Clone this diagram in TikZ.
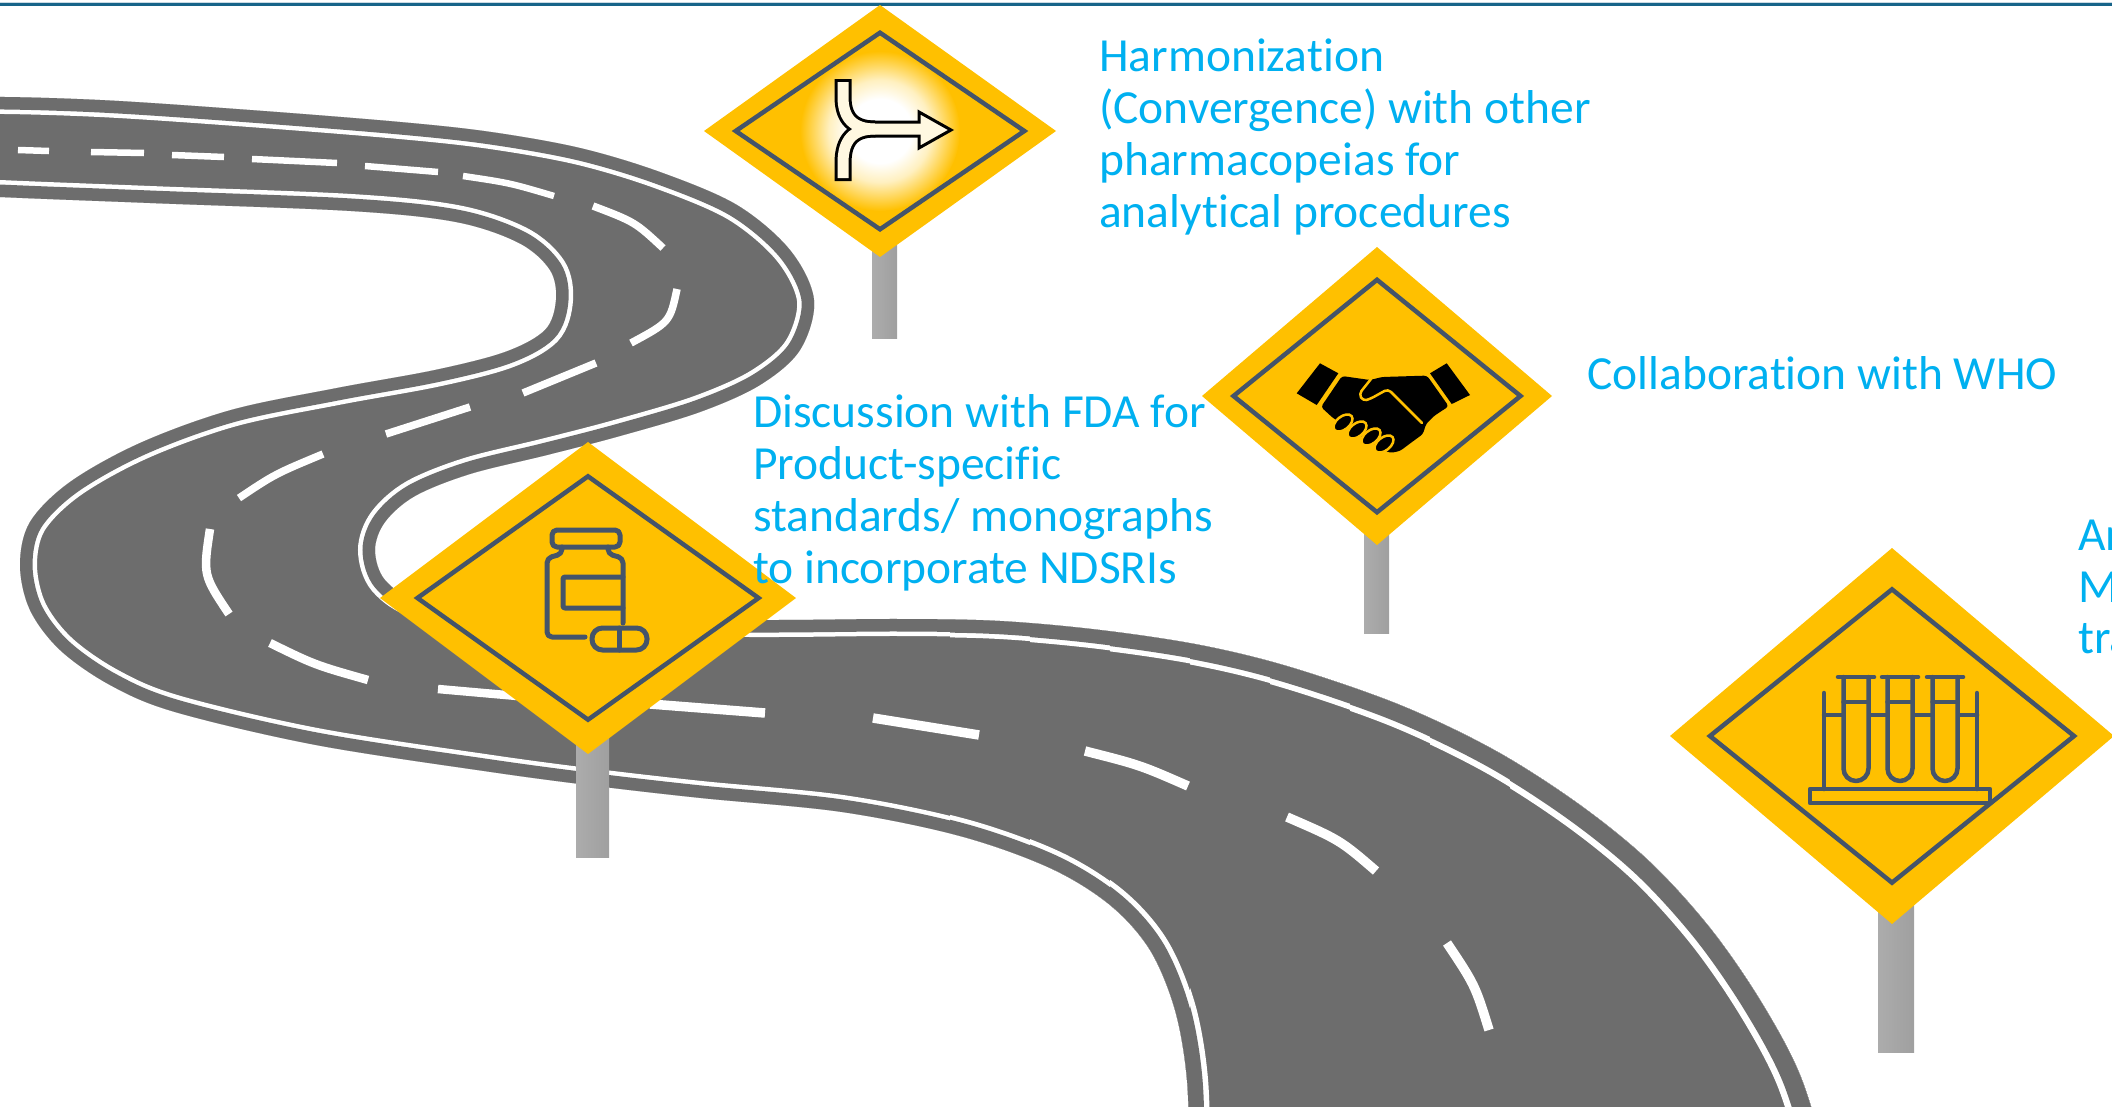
\documentclass[tikz,border=0pt]{standalone}
\usepackage{fontspec}
\setmainfont{Carlito}[Ligatures=NoCommon]
\usetikzlibrary{calc}
\definecolor{signyellow}{HTML}{FFC000}
\definecolor{signline}{HTML}{44546A}
\definecolor{roadgray}{HTML}{6D6D6D}
\definecolor{labelblue}{HTML}{00B0F0}
\definecolor{ruleblue}{HTML}{176489}
\definecolor{rulelight}{HTML}{C9D9E3}
\definecolor{cream}{HTML}{FFF8E1}
\definecolor{glowmid}{HTML}{FFF0C0}
\pgfdeclareradialshading{signglow}{\pgfpoint{0bp}{0bp}}{color(0bp)=(white); color(10bp)=(white); color(16bp)=(glowmid); color(25bp)=(signyellow); color(50bp)=(signyellow)}

% yellow plate of a diamond sign: centre x, centre y, half width, half height
\newcommand\signplate[4]{\fill[signyellow] ({#1},{#2-#4}) -- ({#1+#3},{#2}) -- ({#1},{#2+#4}) -- ({#1-#3},{#2}) -- cycle;}
% dark inner border of a diamond sign
\newcommand\signrim[4]{\draw[rimline] ({#1},{#2-0.78*#4}) -- ({#1+0.82*#3},{#2}) -- ({#1},{#2+0.78*#4}) -- ({#1-0.82*#3},{#2}) -- cycle;}

% outline of the winding road (one closed curve, ends hidden outside the page)
\def\roadpath{plot[smooth cycle,tension=0.55] coordinates {
 (-20,97) (100,100) (250,110) (400,122) (491,132) (580,148) (660,172) (737,205) (790,250) (814,300) (800,350) (760,385) (700,412) (620,436) (547,455) (470,474) (415,496) (385,522) (375,550) (385,580) (420,602) (500,614) (620,619) (772,620) (900,619) (1000,621) (1100,630) (1200,645) (1290,667) (1400,705) (1496,751) (1580,805) (1650,862) (1710,928) (1760,1000) (1800,1075) (1825,1160) (1840,1250)
 (1180,1250) (1188,1160) (1187,1080) (1175,1010) (1150,950) (1110,905) (1050,868) (960,836) (842,812) (701,798) (596,786) (491,772) (316,745) (175,712) (110,685) (60,650) (30,610) (20,565) (30,522) (70,482) (140,443) (231,410) (337,388) (435,370) (505,352) (545,330) (556,300) (550,270) (519,243) (456,222) (351,211) (150,203) (-20,196) (-80,190) (-80,103)}}

\begin{document}
\begin{tikzpicture}[x=1pt,y=-1pt,
  caption/.style={text=labelblue,font=\fontsize{47.5}{52}\selectfont,anchor=base west,inner sep=0pt},
  rimline/.style={draw=signline,line width=4.5pt,line join=miter},
  iconline/.style={draw=signline,line width=5pt,line cap=round,line join=round},
  tubeline/.style={draw=signline,line width=4.5pt,line cap=round,line join=round},
  postbar/.style={left color=gray!65,middle color=white,right color=gray!75},
  lanemark/.style={draw=white,line cap=butt},
  handgap/.style={draw=signyellow,line width=2.5pt,line join=round,line cap=round}]

\useasboundingbox (0,0) rectangle (2112,1106);
\clip (0,0) rectangle (2112,1106);

% top rule
\fill[rulelight] (0,1.5) rectangle (2112,3);
\fill[ruleblue] (0,3) rectangle (2112,5.5);

% ---------- road ----------
\fill[roadgray] \roadpath;
% white edge lines: a gray margin and a white stripe just inside the outline,
% growing wider towards the near (lower right) end of the road
\begin{scope}
  \clip \roadpath;
  \draw[white,line width=34pt] \roadpath;
  \draw[roadgray,line width=25pt] \roadpath;
\end{scope}
\foreach \xs/\wa/\wb in {950/36/26.5, 1030/38/28, 1110/40/29.5, 1190/42/31, 1270/44/32.5, 1350/46/34, 1430/48/35.5, 1510/50/37} {
  \begin{scope}
    \clip (\xs,560) rectangle (2150,1150);
    \clip \roadpath;
    \draw[white,line width=\wa pt] \roadpath;
    \draw[roadgray,line width=\wb pt] \roadpath;
  \end{scope}
}

% centre lane marks
\begin{scope}[lanemark,line width=6.5pt]
  \draw (18,150) -- (49,151);
  \draw (91,152) -- (144,153);
  \draw (172,155) -- (224,157);
  \draw (252,159) -- (337,163);
  \draw (365,166) -- (438,172);
  \draw (463,176) .. controls (510,183) .. (554,196);
\end{scope}
\begin{scope}[lanemark,line width=7.5pt]
  \draw (593,206) .. controls (635,222) .. (663,248);
  \draw (677,289) .. controls (670,322) .. (631,343);
  \draw (596,363) -- (523,393);
  \draw (470,407) -- (386,434);
  \draw (323,454) .. controls (275,474) .. (239,498);
\end{scope}
\begin{scope}[lanemark,line width=8.5pt]
  \draw (210,529) .. controls (203,575) .. (229,614);
  \draw (270,643) .. controls (315,665) .. (368,680);
  \draw (438,689) -- (540,698);
\end{scope}
\begin{scope}[lanemark,line width=9.5pt]
  \draw (650,704) -- (765,713);
  \draw (873,718) -- (979,735);
  \draw (1085,751) .. controls (1140,765) .. (1188,786);
  \draw (1287,817) .. controls (1340,840) .. (1376,871);
  \draw (1447,943) .. controls (1475,985) .. (1489,1030);
\end{scope}

% ---------- posts ----------
\shade[postbar] (872,200) rectangle (897,338);
\shade[postbar] (1364,500) rectangle (1389,633);
\shade[postbar] (576,700) rectangle (609,857);
\shade[postbar] (1878,900) rectangle (1914,1052);

% ---------- sign: merging lanes ----------
\signplate{880}{131}{176}{126}
\begin{scope}
  \clip (880,5) -- (1056,131) -- (880,257) -- (704,131) -- cycle;
  \shade[shading=signglow] (880,131) circle [radius=80];
\end{scope}
\signrim{880}{131}{176}{126}
\draw[black,line width=17pt] (843,79) -- (843,97) .. controls (843,118) and (853,129) .. (875,129) -- (921,129);
\draw[black,line width=17pt] (843,181) -- (843,163) .. controls (843,140) and (853,129) .. (875,129);
\filldraw[fill=cream,draw=black,line width=3pt,line join=miter] (919,112) -- (951,130) -- (919,148) -- cycle;
\draw[cream,line width=11pt] (843,82) -- (843,97) .. controls (843,118) and (853,129) .. (875,129) -- (923,129);
\draw[cream,line width=11pt] (843,178) -- (843,163) .. controls (843,140) and (853,129) .. (875,129);

% ---------- sign: handshake ----------
\signplate{1377}{396}{175}{149}
\signrim{1377}{396}{175}{149}
\fill[black] (1296.7,393.3) -- (1320,363.3) -- (1338.3,373.3) -- (1316.7,405) -- cycle;
\fill[black] (1430,373.3) -- (1446.7,363.3) -- (1470,395) -- (1451.7,404) -- cycle;
\fill[black,rounded corners=3pt] (1342,376) -- (1370,380) -- (1382,377) -- (1427,375.6) -- (1448.7,406.3) -- (1434,416) -- (1426,424) -- (1423,434) -- (1412,442) -- (1400,451) -- (1390,453) -- (1380,448) -- (1333,418) -- (1321,407) -- cycle;
\foreach \fx/\fy in {1343/423,1357/430,1371/437,1384/444}
  \filldraw[fill=black,draw=signyellow,line width=2.5pt,rotate around={39:(\fx,\fy)}] (\fx,\fy) ellipse [x radius=11,y radius=6.5];
\draw[handgap,rounded corners=4pt] (1371,379) -- (1359,394) -- (1363,401) -- (1370,399) -- (1388,389) -- (1422,423);

% ---------- sign: medicine bottle ----------
\signplate{588}{598}{208}{156}
\signrim{588}{598}{208}{156}
\draw[iconline,rounded corners=5pt] (552,530) rectangle (620,547);
\draw[iconline,rounded corners=5pt] (562,547) -- (562,554) -- (547,558) -- (547,637) -- (585,637);
\draw[iconline,rounded corners=5pt] (608,547) -- (608,554) -- (623,558) -- (623,623);
\draw[iconline,rounded corners=2pt] (623,577) -- (563,577) -- (563,608) -- (623,608);
\draw[iconline,rounded corners=10.5pt] (592,628) rectangle (647,650);
\draw[iconline] (619,628) -- (619,650);

% ---------- sign: test tube rack ----------
\signplate{1892}{736}{222}{188}
\signrim{1892}{736}{222}{188}
\draw[tubeline] (1810,789) rectangle (1990,803);
\draw[tubeline] (1824,693) -- (1824,789);
\draw[tubeline] (1977,693) -- (1977,789);
\draw[tubeline] (1824,715) -- (1977,715);
\foreach \cx in {1856,1900,1945} {
  \filldraw[tubeline,fill=signyellow,rounded corners=12.5pt] ({\cx-12.5},677) -- ({\cx-12.5},781) -- ({\cx+12.5},781) -- ({\cx+12.5},677);
  \draw[tubeline] ({\cx-18},677) -- ({\cx+18},677);
  \draw[tubeline] ({\cx-12.5},702) -- ({\cx+12.5},702);
}

% ---------- captions ----------
\node[caption] (h1) at (1099,71) {Harmonization};
\node[caption] (h2) at (1099,123) {(Convergence) with other};
\node[caption] (h3) at (1099,175) {pharmacopeias for};
\node[caption] (h4) at (1099,227) {analytical procedures};
\node[caption] (w1) at (1587,389) {Collaboration with WHO};
\node[caption] (f1) at (753,427) {Discussion with FDA for};
\node[caption] (f2) at (753,479) {Product-specific};
\node[caption] (f3) at (753,531) {standards/ monographs};
\node[caption] (f4) at (753,583) {to incorporate NDSRIs};
\node[caption] (a1) at (2078,550) {An};
\node[caption] (a2) at (2078,602) {M};
\node[caption] (a3) at (2078,653) {tra};
\end{tikzpicture}
\end{document}
